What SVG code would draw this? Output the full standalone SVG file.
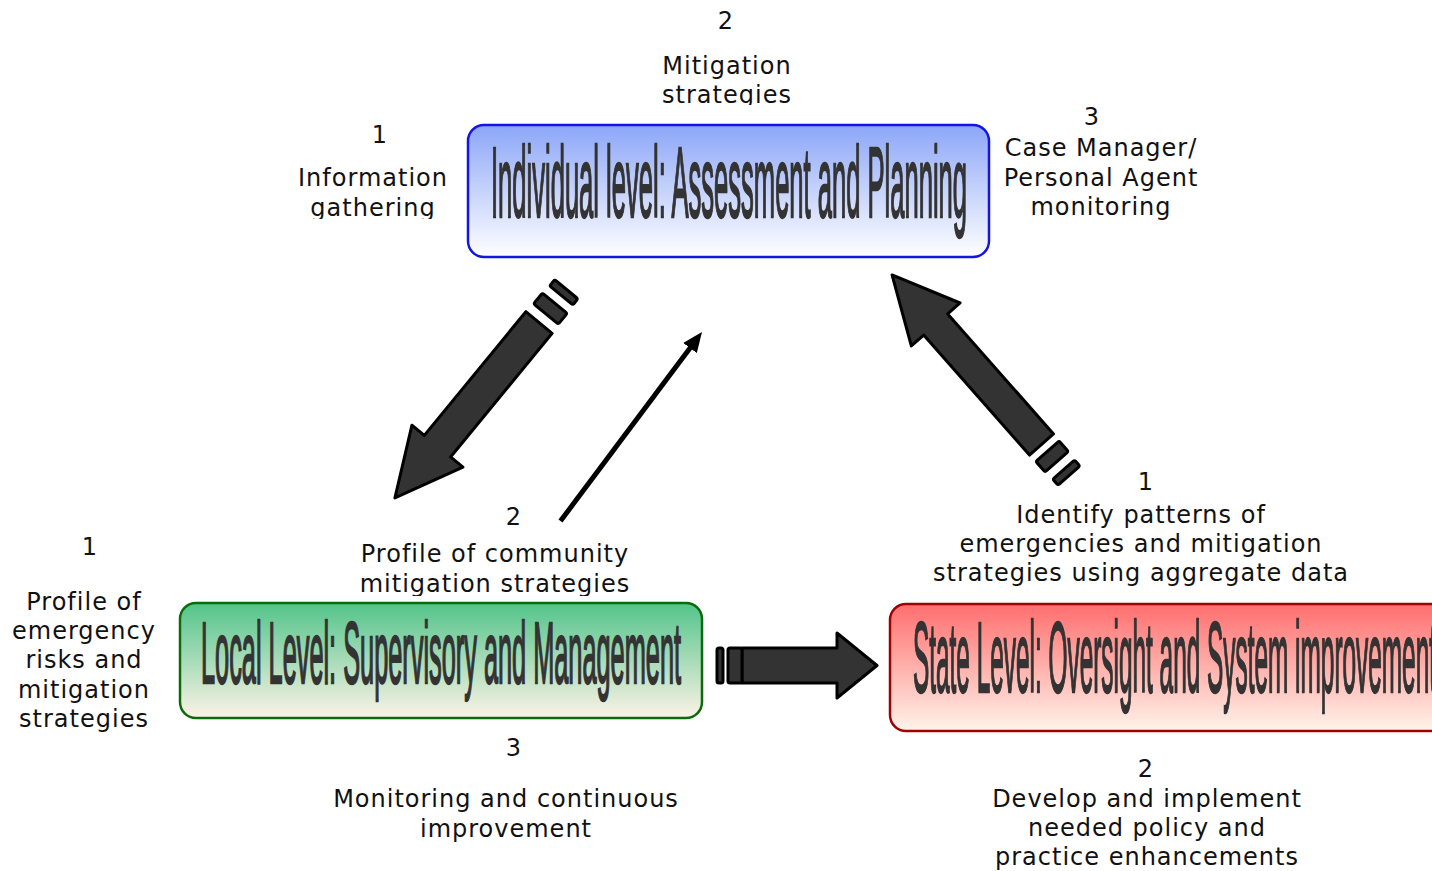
<svg xmlns="http://www.w3.org/2000/svg" width="1432" height="871" viewBox="0 0 1432 871">
  <defs>
    <linearGradient id="gBlue" x1="0" y1="0" x2="0" y2="1">
      <stop offset="0" stop-color="#8ca6f8"/>
      <stop offset="1" stop-color="#ffffff"/>
    </linearGradient>
    <linearGradient id="gGreen" x1="0" y1="0" x2="0" y2="1">
      <stop offset="0" stop-color="#52c48a"/>
      <stop offset="1" stop-color="#fdf3e6"/>
    </linearGradient>
    <linearGradient id="gRed" x1="0" y1="0" x2="0" y2="1">
      <stop offset="0" stop-color="#ff6e6e"/>
      <stop offset="1" stop-color="#fff4ea"/>
    </linearGradient>
    <marker id="thinHead" viewBox="0 0 20 17" refX="6" refY="8.5" markerWidth="20" markerHeight="17" markerUnits="userSpaceOnUse" orient="auto">
      <path d="M0,0 L20,8.5 L0,17 Z" fill="#000"/>
    </marker>
    <clipPath id="clipTopL"><rect x="250" y="100" width="220" height="119"/></clipPath>
    <clipPath id="clipTopC"><rect x="600" y="0" width="260" height="105"/></clipPath>
    <clipPath id="clipMid"><rect x="330" y="500" width="330" height="96"/></clipPath>
  </defs>
  <style>
    .lbl { font-family: "DejaVu Sans", "Verdana", sans-serif; font-size: 24px; letter-spacing: 1px; fill: #111; text-anchor: middle; }
    .title { font-family: "Liberation Sans", "Arial", sans-serif; font-weight: normal; fill: #333; stroke: #333; stroke-width: 2.4px; }
    .big { fill: #333; stroke: #000; stroke-width: 3; stroke-linejoin: round; }
  </style>

  <g id="node-individual">
    <rect x="468" y="125" width="521" height="132" rx="16" fill="url(#gBlue)" stroke="#1414e6" stroke-width="2.5"/>
    <text class="title" x="491" y="217" font-size="100" textLength="476" lengthAdjust="spacingAndGlyphs">Individual level: Assessment and Planning</text>
  </g>

  <g id="node-local">
    <rect x="180" y="603" width="522" height="115" rx="16" fill="url(#gGreen)" stroke="#0b6b0b" stroke-width="2.5"/>
    <text class="title" x="201" y="683" font-size="88" textLength="480" lengthAdjust="spacingAndGlyphs">Local Level: Supervisory and Management</text>
  </g>

  <g id="node-state">
    <rect x="890" y="604" width="560" height="127" rx="16" fill="url(#gRed)" stroke="#a00000" stroke-width="2.5"/>
    <text class="title" x="913" y="692" font-size="100" textLength="523" lengthAdjust="spacingAndGlyphs">State Level: Oversight and System improvement</text>
  </g>

  <g id="connectors">
    <!-- Individual -> Local (big arrow down-left) -->
    <g transform="translate(539,322.5) rotate(129.4)">
      <path class="big" d="M0,-17 L160,-17 L160,-33 L227,0 L160,33 L160,17 L0,17 Z"/>
      <rect class="big" x="-25" y="-16" width="14" height="32" rx="2"/>
      <rect class="big" x="-43" y="-15" width="8" height="30" rx="2"/>
    </g>
    <!-- State -> Individual (big arrow up-left) -->
    <g transform="translate(1041.5,444.5) rotate(228.6)">
      <path class="big" d="M0,-16 L160,-16 L160,-32.5 L226,0 L160,32.5 L160,16 L0,16 Z"/>
      <rect class="big" x="-23" y="-15.5" width="14" height="31" rx="2"/>
      <rect class="big" x="-41.5" y="-14.5" width="8" height="29" rx="2"/>
    </g>
    <!-- Local -> State (big arrow right) -->
    <g transform="translate(742,665.5)">
      <path class="big" d="M0,-17.5 L95,-17.5 L95,-32.5 L135,0 L95,32.5 L95,17.5 L0,17.5 Z"/>
      <rect class="big" x="-14" y="-17.5" width="14" height="35" rx="2" fill="#444"/>
      <rect class="big" x="-25" y="-17.5" width="6" height="35" rx="2"/>
    </g>
    <!-- thin arrow Local -> Individual -->
    <line x1="560.5" y1="521" x2="693.6" y2="343.2" stroke="#000" stroke-width="5" marker-end="url(#thinHead)"/>
  </g>

  <g id="labels-individual">
    <text class="lbl" x="726" y="29">2</text>
    <text class="lbl" x="727" y="74">Mitigation</text>
    <text class="lbl" x="727" y="103" clip-path="url(#clipTopC)">strategies</text>
    <text class="lbl" x="380" y="143">1</text>
    <text class="lbl" x="373" y="186">Information</text>
    <text class="lbl" x="373" y="216" clip-path="url(#clipTopL)">gathering</text>
    <text class="lbl" x="1092" y="125">3</text>
    <text class="lbl" x="1101" y="156">Case Manager/</text>
    <text class="lbl" x="1101" y="186">Personal Agent</text>
    <text class="lbl" x="1101" y="215">monitoring</text>
  </g>

  <g id="labels-local">
    <text class="lbl" x="90" y="555">1</text>
    <text class="lbl" x="84" y="610">Profile of</text>
    <text class="lbl" x="84" y="639">emergency</text>
    <text class="lbl" x="84" y="668">risks and</text>
    <text class="lbl" x="84" y="698">mitigation</text>
    <text class="lbl" x="84" y="727">strategies</text>
    <text class="lbl" x="514" y="525">2</text>
    <text class="lbl" x="495" y="562">Profile of community</text>
    <text class="lbl" x="495" y="592" clip-path="url(#clipMid)">mitigation strategies</text>
    <text class="lbl" x="514" y="756">3</text>
    <text class="lbl" x="506" y="807">Monitoring and continuous</text>
    <text class="lbl" x="506" y="837">improvement</text>
  </g>

  <g id="labels-state">
    <text class="lbl" x="1146" y="490">1</text>
    <text class="lbl" x="1141" y="523">Identify patterns of</text>
    <text class="lbl" x="1141" y="552">emergencies and mitigation</text>
    <text class="lbl" x="1141" y="581">strategies using aggregate data</text>
    <text class="lbl" x="1146" y="777">2</text>
    <text class="lbl" x="1147" y="807">Develop and implement</text>
    <text class="lbl" x="1147" y="836">needed policy and</text>
    <text class="lbl" x="1147" y="865">practice enhancements</text>
  </g>
</svg>
